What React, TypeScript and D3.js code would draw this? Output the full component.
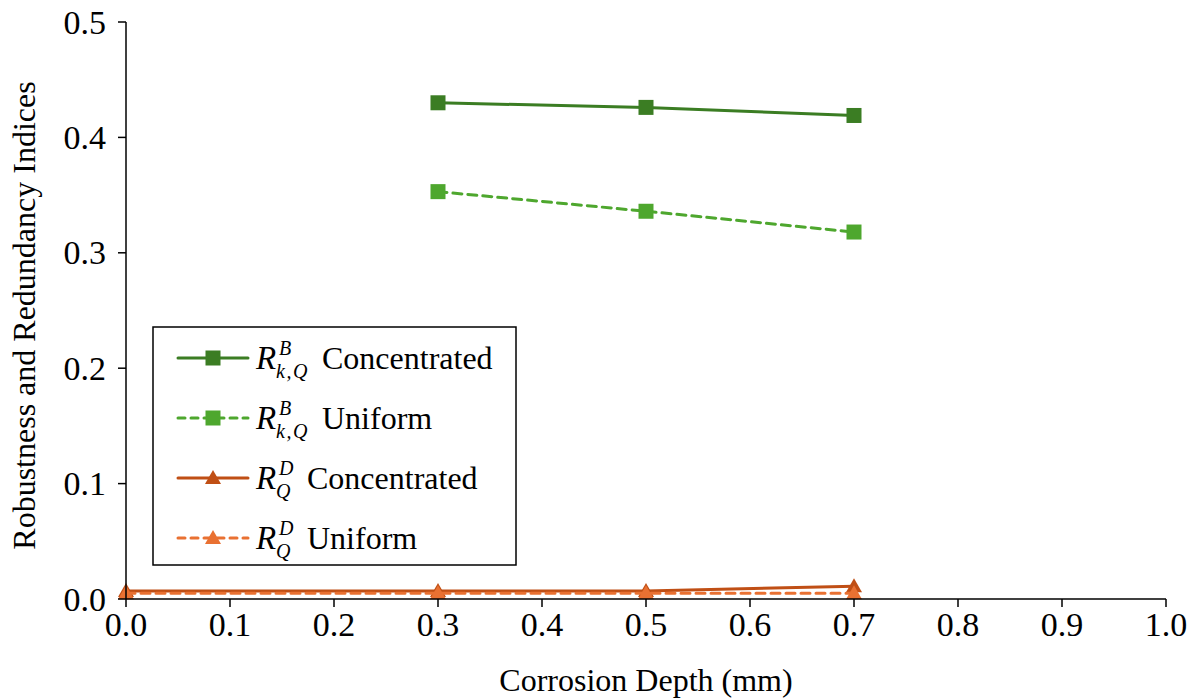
import React from "react";
import * as d3 from "d3";

const depthsB = [0.3, 0.5, 0.7];
const depthsD = [0.0, 0.3, 0.5, 0.7];
const bConcentrated = [0.43, 0.426, 0.419];
const bUniform = [0.353, 0.336, 0.318];
const dConcentrated = [0.007, 0.007, 0.007, 0.011];
const dUniform = [0.005, 0.005, 0.005, 0.005];
const xTicks = [0, 0.1, 0.2, 0.3, 0.4, 0.5, 0.6, 0.7, 0.8, 0.9, 1.0];
const yTicks = [0, 0.1, 0.2, 0.3, 0.4, 0.5];
const xTitle = "Corrosion Depth (mm)";
const yTitle = "Robustness and Redundancy Indices";

type Series = {
  xs: number[];
  ys: number[];
  color: string;
  dashed: boolean;
  marker: "square" | "triangle";
  sup: string;
  sub: string;
  label: string;
};

const series: Series[] = [
  { xs: depthsB, ys: bConcentrated, color: "#3B7D23", dashed: false, marker: "square", sup: "B", sub: "k,Q", label: "Concentrated" },
  { xs: depthsB, ys: bUniform, color: "#4EA72E", dashed: true, marker: "square", sup: "B", sub: "k,Q", label: "Uniform" },
  { xs: depthsD, ys: dConcentrated, color: "#C04F15", dashed: false, marker: "triangle", sup: "D", sub: "Q", label: "Concentrated" },
  { xs: depthsD, ys: dUniform, color: "#E97132", dashed: true, marker: "triangle", sup: "D", sub: "Q", label: "Uniform" },
];

const W = 1192;
const H = 698;
const left = 126;
const right = 1166;
const top = 22;
const bottom = 599;
const serifFont = '"Liberation Serif", Tinos, Times, monospace';
const txt: React.CSSProperties = { fontFamily: serifFont };

function Marker({ type, x, y, color }: { type: string; x: number; y: number; color: string }) {
  if (type === "square") {
    return <rect x={x - 7.5} y={y - 7.5} width={15} height={15} fill={color} />;
  }
  const p = d3.path();
  p.moveTo(x, y - 8);
  p.lineTo(x + 8, y + 6);
  p.lineTo(x - 8, y + 6);
  p.closePath();
  return <path d={p.toString()} fill={color} />;
}

export default function App() {
  const x = d3.scaleLinear().domain([0, 1]).range([left, right]);
  const y = d3.scaleLinear().domain([0, 0.5]).range([bottom, top]);
  const line = d3
    .line<[number, number]>()
    .x((d) => x(d[0]))
    .y((d) => y(d[1]));

  const legendX = 153;
  const legendY = 327;
  const legendW = 363;
  const legendH = 238;
  const rowY = (i: number) => 358 + i * 60;

  return (
    <svg
      width={W}
      height={H}
      style={{ position: "absolute", left: 0, top: 0, background: "#fff" }}
    >
      <rect x={0} y={0} width={W} height={H} fill="#fff" />
      {series.map((s, i) => {
        const pts = s.xs.map((v, j) => [v, s.ys[j]] as [number, number]);
        return (
          <g key={i}>
            <path
              d={line(pts) || ""}
              fill="none"
              stroke={s.color}
              strokeWidth={3}
              strokeDasharray={s.dashed ? "9 6" : undefined}
              strokeLinecap="round"
            />
            {pts.map((p, j) => (
              <Marker key={j} type={s.marker} x={x(p[0])} y={y(p[1])} color={s.color} />
            ))}
          </g>
        );
      })}
      <line x1={left} x2={left} y1={top} y2={bottom} stroke="#000" strokeWidth={1.5} />
      <line x1={left} x2={right} y1={bottom} y2={bottom} stroke="#000" strokeWidth={1.5} />
      {yTicks.map((t) => (
        <g key={"y" + t}>
          <line x1={left - 8} x2={left} y1={y(t)} y2={y(t)} stroke="#000" strokeWidth={1.5} />
          <text style={txt} x={left - 20} y={y(t)} dy="0.34em" textAnchor="end" fontSize={34} fill="#000">
            {d3.format(".1f")(t)}
          </text>
        </g>
      ))}
      {xTicks.map((t) => (
        <g key={"x" + t}>
          <line x1={x(t)} x2={x(t)} y1={bottom} y2={bottom + 8} stroke="#000" strokeWidth={1.5} />
          <text style={txt} x={x(t)} y={bottom + 37} textAnchor="middle" fontSize={34} fill="#000">
            {d3.format(".1f")(t)}
          </text>
        </g>
      ))}
      <text style={txt} x={(left + right) / 2} y={691} textAnchor="middle" fontSize={32} fill="#000">
        {xTitle}
      </text>
      <text
        style={txt}
        transform={`translate(35, ${(78 + 553) / 2}) rotate(-90)`}
        textAnchor="middle"
        fontSize={32}
        fill="#000"
      >
        {yTitle}
      </text>
      <rect x={legendX} y={legendY} width={legendW} height={legendH} fill="#fff" stroke="#000" strokeWidth={1.5} />
      {series.map((s, i) => {
        const cy = rowY(i);
        const textX = s.sub.length > 1 ? 322 : 307;
        return (
          <g key={"l" + i}>
            <line
              x1={178}
              x2={248}
              y1={cy}
              y2={cy}
              stroke={s.color}
              strokeWidth={3}
              strokeDasharray={s.dashed ? "7 6" : undefined}
              strokeLinecap="round"
            />
            <Marker type={s.marker} x={213} y={cy} color={s.color} />
            <text style={txt} x={256} y={cy + 11} fontSize={33} fontStyle="italic" fill="#000">R</text>
            <text style={txt} x={279} y={cy - 3} fontSize={20} fontStyle="italic" fill="#000">{s.sup}</text>
            <text style={txt} x={276} y={cy + 20} fontSize={20} fontStyle="italic" letterSpacing={1.5} fill="#000">{s.sub}</text>
            <text style={txt} x={textX} y={cy + 11} fontSize={32} fill="#000">{s.label}</text>
          </g>
        );
      })}
    </svg>
  );
}
